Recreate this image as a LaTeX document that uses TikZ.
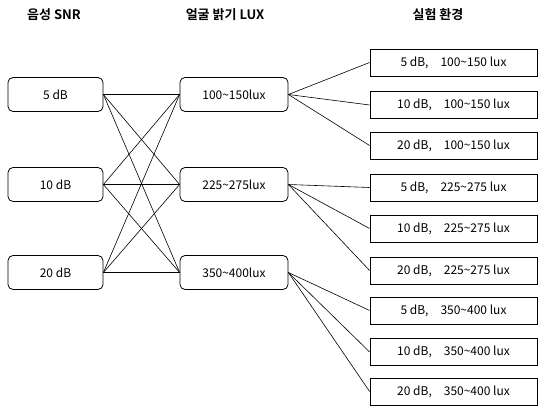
\documentclass[tikz,border=0pt]{standalone}
\usepackage{fontspec}
\setmainfont{Noto Sans CJK KR}
\newfontfamily\hdrfont{Noto Sans CJK KR Bold}
\begin{document}
\begin{tikzpicture}[x=1pt,y=-1pt,
  rbox/.style={draw,rounded corners=5pt,line width=0.8pt,minimum width=95pt,minimum height=34pt,inner sep=0pt,font=\fontsize{12}{14}\selectfont},
  mbox/.style={draw,rounded corners=5pt,line width=0.8pt,minimum width=108pt,minimum height=34pt,inner sep=0pt,font=\fontsize{12}{14}\selectfont},
  ebox/.style={draw,line width=0.8pt,minimum width=167pt,minimum height=27pt,inner sep=0pt,font=\fontsize{12}{14}\selectfont},
  hdr/.style={font=\hdrfont\fontsize{13}{15}\selectfont},
  conn/.style={line width=0.6pt}]
\useasboundingbox (0,0) rectangle (539,406);
\node[hdr] (h1) at (54,15) {음성 SNR};
\node[hdr] (h2) at (225,15) {얼굴 밝기 LUX};
\node[hdr] (h3) at (438,15) {실험 환경};
\node[rbox] (s5) at (55.5,94.5) {5 dB};
\node[rbox] (s10) at (55.5,184.5) {10 dB};
\node[rbox] (s20) at (55.5,272.5) {20 dB};
\node[mbox] (l1) at (234,94.5) {100\textasciitilde150lux};
\node[mbox] (l2) at (234,184.5) {225\textasciitilde275lux};
\node[mbox] (l3) at (234,272.5) {350\textasciitilde400lux};
\foreach \n/\y/\t in {e1/62.5/{5 dB,\quad 100\textasciitilde150 lux},
  e2/105/{10 dB,\quad 100\textasciitilde150 lux},
  e3/145.5/{20 dB,\quad 100\textasciitilde150 lux},
  e4/187.5/{5 dB,\quad 225\textasciitilde275 lux},
  e5/228.5/{10 dB,\quad 225\textasciitilde275 lux},
  e6/270.5/{20 dB,\quad 225\textasciitilde275 lux},
  e7/310.5/{5 dB,\quad 350\textasciitilde400 lux},
  e8/352/{10 dB,\quad 350\textasciitilde400 lux},
  e9/391.5/{20 dB,\quad 350\textasciitilde400 lux}}
  \node[ebox] (\n) at (453.5,\y) {\t};
\foreach \a in {s5,s10,s20}
  \foreach \b in {l1,l2,l3}
    \draw[conn] (\a.east) -- (\b.west);
\foreach \e in {e1,e2,e3} \draw[conn] (l1.east) -- (\e.west);
\foreach \e in {e4,e5,e6} \draw[conn] (l2.east) -- (\e.west);
\foreach \e in {e7,e8,e9} \draw[conn] (l3.east) -- (\e.west);
\end{tikzpicture}
\end{document}
